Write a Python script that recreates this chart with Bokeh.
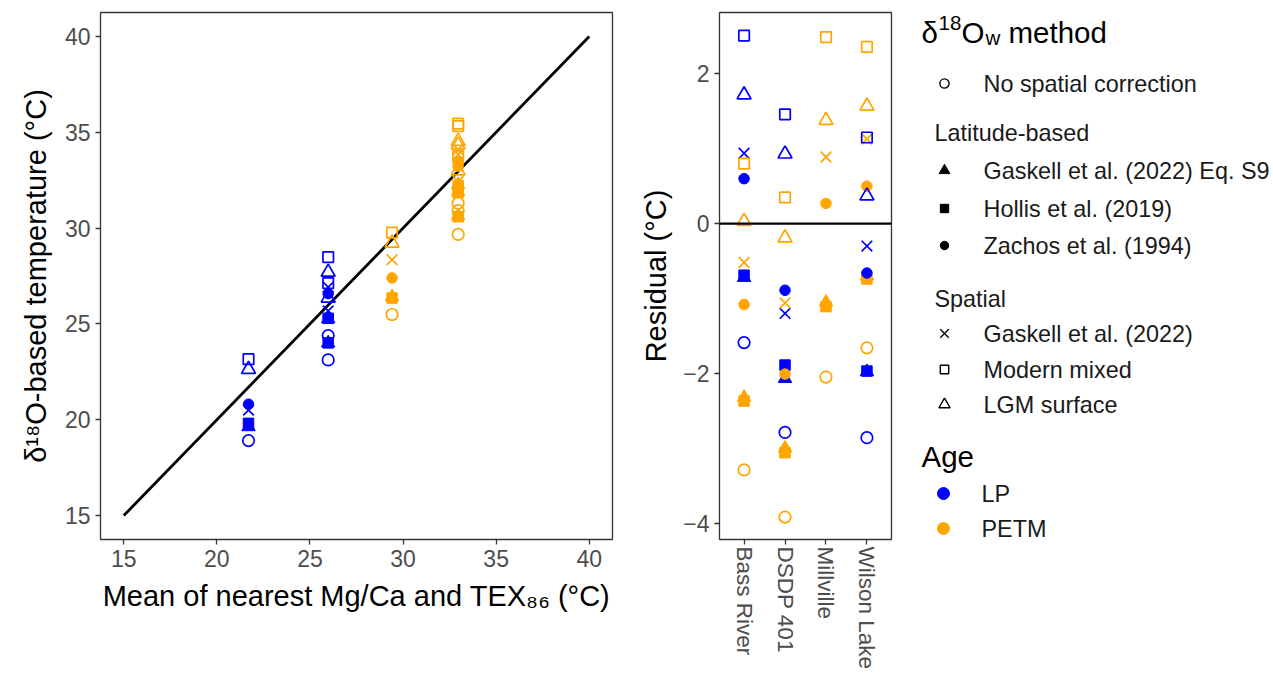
from bokeh.plotting import figure
from bokeh.models import Range1d, FactorRange, FixedTicker, Span, ColumnDataSource
from bokeh.layouts import row
from bokeh.embed import file_html
from bokeh.resources import INLINE
from bokeh.core.properties import value

# ---------------- data ----------------
sites = ["Bass River", "DSDP 401", "Millville", "Wilson Lake"]
ages = ["LP", "PETM"]
age_colors = {"LP": "#0000FF", "PETM": "#FFA500"}

methods = ["No spatial correction", "Gaskell et al. (2022) Eq. S9", "Hollis et al. (2019)",
           "Zachos et al. (1994)", "Gaskell et al. (2022)", "Modern mixed", "LGM surface"]
method_group = ["", "Latitude-based", "Latitude-based", "Latitude-based", "Spatial", "Spatial", "Spatial"]

record_site = ["Bass River", "Bass River", "DSDP 401", "DSDP 401", "Millville", "Wilson Lake", "Wilson Lake"]
record_age = ["LP", "PETM", "LP", "PETM", "PETM", "LP", "PETM"]
proxy_mean = [25.98, 32.96, 21.70, 29.41, 32.96, 25.98, 32.96]

# d18O-based temperature (deg C), one row per record, columns in `methods` order
d18o_temp = [
    [24.39, 25.26, 25.29, 26.58, 26.92, 28.49, 27.70],
    [29.67, 30.64, 30.59, 31.88, 32.44, 33.76, 32.99],
    [18.91, 19.63, 19.81, 20.81, 20.50, 23.16, 22.63],
    [25.49, 26.41, 26.35, 27.40, 28.35, 29.76, 29.22],
    [30.91, 31.91, 31.85, 33.23, 33.85, 35.45, 34.34],
    [23.12, 24.00, 24.01, 25.32, 25.68, 27.13, 26.35],
    [31.30, 32.26, 32.22, 33.46, 34.09, 35.32, 34.53],
]
# residual (deg C), same layout
residual = [
    [-1.59, -0.72, -0.69, 0.60, 0.94, 2.51, 1.72],
    [-3.29, -2.32, -2.37, -1.08, -0.52, 0.80, 0.03],
    [-2.79, -2.07, -1.89, -0.89, -1.20, 1.46, 0.93],
    [-3.92, -3.00, -3.06, -2.01, -1.06, 0.35, -0.19],
    [-2.05, -1.05, -1.11, 0.27, 0.89, 2.49, 1.38],
    [-2.86, -1.98, -1.97, -0.66, -0.30, 1.15, 0.37],
    [-1.66, -0.70, -0.74, 0.50, 1.13, 2.36, 1.57],
]
one_to_one = [15, 40]

# ---------------- styles ----------------
FONT = "Liberation Sans"
marker_style = {
    "No spatial correction": dict(marker="circle", size=11.5, filled=False),
    "Gaskell et al. (2022) Eq. S9": dict(marker="triangle", size=13.5, filled=True),
    "Hollis et al. (2019)": dict(marker="square", size=10.5, filled=True),
    "Zachos et al. (1994)": dict(marker="circle", size=10.5, filled=True),
    "Gaskell et al. (2022)": dict(marker="x", size=15, filled=False),
    "Modern mixed": dict(marker="square", size=10.5, filled=False),
    "LGM surface": dict(marker="triangle", size=14, filled=False),
}

H = 679
TOP, BOTTOM = 12, 140   # frame spans y 12..539 for all panels


def style_axes(p):
    p.background_fill_color = "white"
    p.border_fill_color = "white"
    p.outline_line_color = "#333333"
    p.outline_line_width = 1.3
    p.xgrid.visible = False
    p.ygrid.visible = False
    for ax in p.axis:
        ax.axis_line_color = None
        ax.major_tick_line_color = "#333333"
        ax.major_tick_line_width = 1.3
        ax.major_tick_out = 5
        ax.major_tick_in = 0
        ax.minor_tick_line_color = None
        ax.major_label_text_font = FONT
        ax.major_label_text_font_size = "23px"
        ax.major_label_text_color = "#4D4D4D"
        ax.axis_label_text_font = FONT
        ax.axis_label_text_font_size = "29px"
        ax.axis_label_text_font_style = "normal"
        ax.axis_label_text_color = "black"


def add_points(p, xs_by_record, ys_by_record):
    for j, m in enumerate(methods):
        st = marker_style[m]
        cols = [age_colors[a] for a in record_age]
        src = ColumnDataSource(dict(
            x=list(xs_by_record),
            y=[ys_by_record[i][j] for i in range(len(record_site))],
            c=cols,
        ))
        if st["filled"]:
            p.scatter("x", "y", source=src, marker=st["marker"], size=st["size"],
                      fill_color="c", line_color="c", line_width=1)
        else:
            p.scatter("x", "y", source=src, marker=st["marker"], size=st["size"],
                      fill_color=None, line_color="c", line_width=1.7)


# ---------------- left panel ----------------
p1 = figure(width=632, height=H, x_range=Range1d(13.75, 41.25), y_range=Range1d(13.75, 41.25),
            output_backend="svg", toolbar_location=None,
            min_border_left=100, min_border_right=20, min_border_top=TOP, min_border_bottom=BOTTOM)
style_axes(p1)
p1.xaxis.ticker = FixedTicker(ticks=[15, 20, 25, 30, 35, 40])
p1.yaxis.ticker = FixedTicker(ticks=[15, 20, 25, 30, 35, 40])
p1.xaxis.axis_label = "Mean of nearest Mg/Ca and TEX\u2088\u2086 (\u00b0C)"
p1.yaxis.axis_label = "\u03b4\u00b9\u2078O-based temperature (\u00b0C)"
p1.xaxis.axis_label_standoff = 10
p1.yaxis.axis_label_standoff = 10
p1.line(one_to_one, one_to_one, line_color="black", line_width=2.8)
add_points(p1, proxy_mean, d18o_temp)

# ---------------- right panel ----------------
p2 = figure(width=273, height=H,
            x_range=FactorRange(factors=sites, range_padding=0.1, range_padding_units="absolute"),
            y_range=Range1d(-4.22, 2.82),
            output_backend="svg", toolbar_location=None,
            min_border_left=87, min_border_right=14, min_border_top=TOP, min_border_bottom=BOTTOM)
style_axes(p2)
p2.yaxis.ticker = FixedTicker(ticks=[-4, -2, 0, 2])
p2.yaxis.axis_label = "Residual (\u00b0C)"
p2.yaxis.axis_label_standoff = 8
p2.xaxis.major_label_orientation = "vertical"
p2.xaxis.major_label_text_font_size = "22.5px"
p2.xaxis.major_label_standoff = 2
p2.add_layout(Span(location=0, dimension="width", line_color="black", line_width=2.4))
add_points(p2, record_site, residual)

# ---------------- legend panel (data units = page pixels) ----------------
X0, X1 = 905, 1273
p3 = figure(width=X1 - X0, height=H, x_range=Range1d(X0, X1), y_range=Range1d(H - BOTTOM, TOP),
            output_backend="svg", toolbar_location=None,
            min_border_left=0, min_border_right=0, min_border_top=TOP, min_border_bottom=BOTTOM,
            x_axis_location=None, y_axis_location=None)
p3.outline_line_color = None
p3.xgrid.visible = False
p3.ygrid.visible = False
p3.background_fill_color = "white"
p3.border_fill_color = "white"


def ltext(x, y, s, size="23.4px", baseline="middle", color="#1A1A1A"):
    p3.text(x=[x], y=[y], text=[s], text_font=value(FONT), text_font_size=size,
            text_baseline=baseline, text_align="left", text_color=color)


# title: delta-18-O-w method
ltext(921, 32, "\u03b4", size="29.5px", baseline="alphabetic", color="black")
ltext(938, 22, "18", size="20.5px", baseline="alphabetic", color="black")
ltext(961, 32, "O", size="29.5px", baseline="alphabetic", color="black")
ltext(985, 37, "w", size="20.5px", baseline="alphabetic", color="black")
ltext(1008, 32, "method", size="29.5px", baseline="alphabetic", color="black")

item_y = [83, 170, 208, 245, 333, 369, 404]
for m, yy in zip(methods, item_y):
    st = marker_style[m]
    sz = st["size"] * 0.8
    if st["filled"]:
        p3.scatter(x=[944], y=[yy], marker=st["marker"], size=sz,
                   fill_color="black", line_color="black", line_width=1)
    else:
        p3.scatter(x=[944], y=[yy], marker=st["marker"], size=sz,
                   fill_color=None, line_color="black", line_width=1.4)
    ltext(983, yy, m)

ltext(934, 132, "Latitude-based")
ltext(934, 298, "Spatial")

ltext(921, 456, "Age", size="29.5px", color="black")
for a, yy in zip(ages, [493, 528]):
    p3.scatter(x=[943], y=[yy], marker="circle", size=12,
               fill_color=age_colors[a], line_color=age_colors[a])
    ltext(981, yy, a)

layout = row(p1, p2, p3, spacing=0)
open("out.html", "w").write(file_html(layout, INLINE))
